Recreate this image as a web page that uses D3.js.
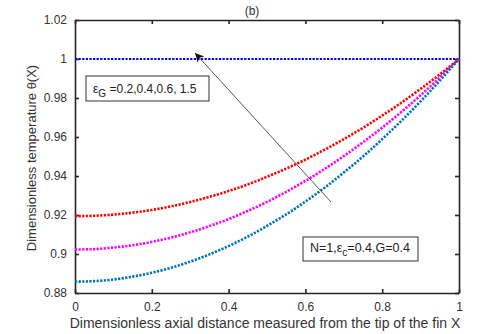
<!DOCTYPE html>
<html><head><meta charset="utf-8">
<script src="https://cdn.jsdelivr.net/npm/d3@7"></script>
<style>body{margin:0;background:#fff}svg{display:block}text{font-family:"Liberation Sans",Arial,sans-serif}</style>
</head><body><svg id="c" width="480" height="334"></svg>
<script>
const X = [0,0.05,0.1,0.15,0.2,0.25,0.3,0.35,0.4,0.45,0.5,0.55,0.6,0.65,0.7,0.75,0.8,0.85,0.9,0.95,1];
const redVals = [0.9194,0.9196,0.9202,0.9212,0.9226,0.9244,0.9267,0.9293,0.9323,0.9357,0.9396,0.9438,0.9484,0.9535,0.9589,0.9647,0.9710,0.9776,0.9847,0.9921,1.0];
const magentaVals = [0.9023,0.9025,0.9033,0.9045,0.9062,0.9084,0.9111,0.9143,0.9179,0.9221,0.9267,0.9319,0.9375,0.9436,0.9502,0.9573,0.9648,0.9729,0.9814,0.9905,1.0];
const blueVals = [0.8858,0.8861,0.8869,0.8884,0.8904,0.8929,0.8961,0.8998,0.9041,0.9089,0.9144,0.9203,0.9269,0.9340,0.9418,0.9500,0.9589,0.9683,0.9783,0.9889,1.0];
const topVals = [1,1,1,1,1,1,1,1,1,1,1,1,1,1,1,1,1,1,1,1,1];
const xTicks = [0,0.2,0.4,0.6,0.8,1];
const yTicks = [0.88,0.9,0.92,0.94,0.96,0.98,1,1.02];
const series = [
  {vals: topVals, color: "#0000ff", w: 2},
  {vals: redVals, color: "#ff0000", w: 2.6},
  {vals: magentaVals, color: "#ff00ff", w: 2.6},
  {vals: blueVals, color: "#0072bd", w: 2.6}
];

const svg = d3.select("#c");
const L = 75, R = 459, T = 20, B = 293;
const x = d3.scaleLinear().domain([0,1]).range([L,R]);
const y = d3.scaleLinear().domain([0.88,1.02]).range([B,T]);
const axisColor = "#262626";

const gB = svg.append("g").attr("transform",`translate(0,${B})`)
  .call(d3.axisBottom(x).tickValues(xTicks).tickSizeInner(-4).tickSizeOuter(0).tickPadding(9).tickFormat(d3.format("~g")));
const gT = svg.append("g").attr("transform",`translate(0,${T})`)
  .call(d3.axisTop(x).tickValues(xTicks).tickSizeInner(-4).tickSizeOuter(0).tickFormat(""));
const gL = svg.append("g").attr("transform",`translate(${L},0)`)
  .call(d3.axisLeft(y).tickValues(yTicks).tickSizeInner(-4).tickSizeOuter(0).tickPadding(8).tickFormat(d3.format("~g")));
const gR = svg.append("g").attr("transform",`translate(${R},0)`)
  .call(d3.axisRight(y).tickValues(yTicks).tickSizeInner(-4).tickSizeOuter(0).tickFormat(""));
[gB,gT,gL,gR].forEach(g=>{
  g.select(".domain").attr("stroke",axisColor).attr("stroke-width",1.6);
  g.selectAll(".tick line").attr("stroke",axisColor).attr("stroke-width",1.6);
  g.selectAll(".tick text").attr("fill","#333").style("font-size","12px");
});

const line = d3.line().x((d,i)=>x(X[i])).y(d=>y(d)).curve(d3.curveMonotoneX);
series.forEach(s=>{
  svg.append("path").attr("d",line(s.vals)).attr("fill","none")
    .attr("stroke",s.color).attr("stroke-width",s.w)
    .attr("stroke-dasharray","2.2 1.4");
});

svg.append("text").attr("x",252).attr("y",15).attr("text-anchor","middle")
  .style("font-size","12px").attr("fill","#333").text("(b)");

svg.append("text").attr("x",265).attr("y",328).attr("text-anchor","middle")
  .style("font-size","14px").attr("fill","#333")
  .text("Dimensionless axial distance measured from the tip of the fin X");
svg.append("text").attr("transform","translate(36,158) rotate(-90)").attr("text-anchor","middle")
  .style("font-size","13px").attr("fill","#333")
  .text("Dimensionless temperature θ(X)");

const defs = svg.append("defs");
defs.append("marker").attr("id","ah").attr("viewBox","0 0 10 10").attr("refX",10).attr("refY",5)
  .attr("markerWidth",11).attr("markerHeight",9).attr("markerUnits","userSpaceOnUse").attr("orient","auto")
  .append("path").attr("d","M0,0 L10,5 L0,10 L3,5 Z").attr("fill","#111");
svg.append("line").attr("x1",331).attr("y1",202).attr("x2",195).attr("y2",53)
  .attr("stroke","#555").attr("stroke-width",1).attr("marker-end","url(#ah)");

function box(x0,y0,w,h){
  svg.append("rect").attr("x",x0).attr("y",y0).attr("width",w).attr("height",h)
    .attr("fill","#fff").attr("stroke","#333").attr("stroke-width",1);
}
box(86,76,123,25);
const t1 = svg.append("text").attr("x",93).attr("y",93).style("font-size","12px").attr("fill","#222");
t1.append("tspan").text("ε");
t1.append("tspan").attr("dy",4).style("font-size","10px").text("G");
t1.append("tspan").attr("dy",-4).text(" =0.2,0.4,0.6, 1.5");

box(303,237,115,24);
const t2 = svg.append("text").attr("x",310).attr("y",252).style("font-size","12.5px").attr("fill","#222");
t2.append("tspan").text("N=1,ε");
t2.append("tspan").attr("dy",4).style("font-size","10px").text("c");
t2.append("tspan").attr("dy",-4).text("=0.4,G=0.4");
</script></body></html>
